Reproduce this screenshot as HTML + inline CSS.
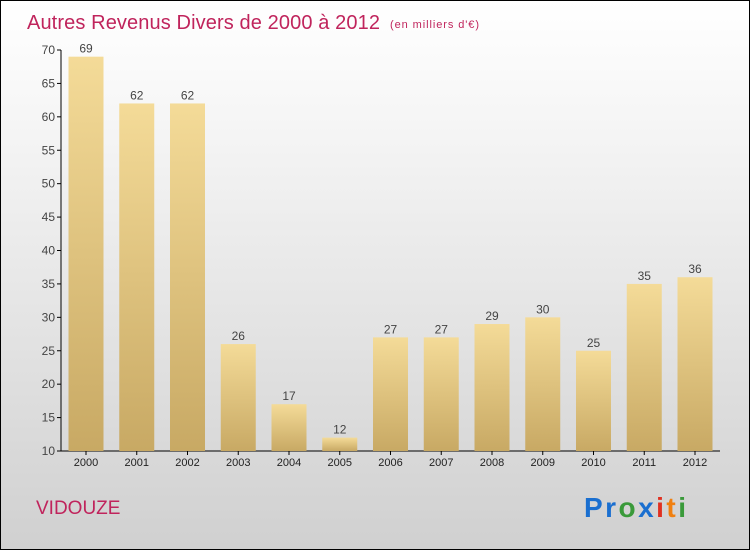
<!DOCTYPE html>
<html><head><meta charset="utf-8"><style>
html,body{margin:0;padding:0}
body{width:750px;height:550px;overflow:hidden;font-family:"Liberation Sans",sans-serif}
#wrap{position:absolute;left:0;top:0;width:748px;height:548px;border:1px solid #000;background:linear-gradient(#ffffff,#f4f4f4 25%,#d0d0d0)}
</style></head><body>
<div id="wrap">
<svg width="750" height="550" style="position:absolute;left:-1px;top:-1px">
<defs><linearGradient id="bg" x1="0" y1="0" x2="0" y2="1"><stop offset="0" stop-color="#f4db98"/><stop offset="1" stop-color="#c8a964"/></linearGradient></defs>
<text x="27" y="29" font-size="20" fill="#c0245c" textLength="353">Autres Revenus Divers de 2000 à 2012</text>
<text x="390" y="28" font-size="11" fill="#c0245c" textLength="89">(en milliers d'€)</text>
<g id="axes"></g><g id="bars"></g>
<text x="36" y="514" font-size="19" fill="#c0245c">VIDOUZE</text>
<text x="584" y="517" font-size="28" font-weight="bold" textLength="102"><tspan fill="#1a6fd0">Pr</tspan><tspan fill="#3a9a3a">o</tspan><tspan fill="#1a6fd0">x</tspan><tspan fill="#e03020">i</tspan><tspan fill="#f08010">t</tspan><tspan fill="#3a9a3a">i</tspan></text>
</svg></div>
<script>
const years=["2000","2001","2002","2003","2004","2005","2006","2007","2008","2009","2010","2011","2012"];
const values=[69,62,62,26,17,12,27,27,29,30,25,35,36];
const yTicks=[10,15,20,25,30,35,40,45,50,55,60,65,70];
const NS="http://www.w3.org/2000/svg";
const y=v=>451-(v-10)*(401/60);
const xc=i=>86+i*50.75;
function mk(t,a,p){const e=document.createElementNS(NS,t);for(const k in a)e.setAttribute(k,a[k]);p.appendChild(e);return e;}
const ax=document.getElementById('axes'),bg=document.getElementById('bars');
const yl=mk('line',{x1:61,y1:y(70),x2:61,y2:451,stroke:'#000'},ax);


const xl=mk('line',{x1:61,y1:451,x2:720,y2:451,stroke:'#000'},ax);


yTicks.forEach(v=>{
 mk('line',{x1:57,x2:61,y1:y(v),y2:y(v),stroke:'#000'},ax);
 const t=mk('text',{x:55,y:y(v)+4,'text-anchor':'end','font-size':12,fill:'#444'},ax);t.textContent=v;
 
 
});
years.forEach((yr,i)=>{
 const v=values[i],x=xc(i);
 const r=mk('rect',{x:x-17.5,y:y(v),width:35,height:451-y(v),fill:'url(#bg)'},bg);
 
 
 const l=mk('text',{x:x,y:y(v)-4,'text-anchor':'middle','font-size':12,fill:'#444'},bg);l.textContent=v;
 
 
 mk('line',{x1:x,x2:x,y1:451,y2:455,stroke:'#000'},ax);
 const t=mk('text',{x:x,y:466,'text-anchor':'middle','font-size':11,fill:'#222'},ax);t.textContent=yr;
 
 
});
</script>
</body></html>
